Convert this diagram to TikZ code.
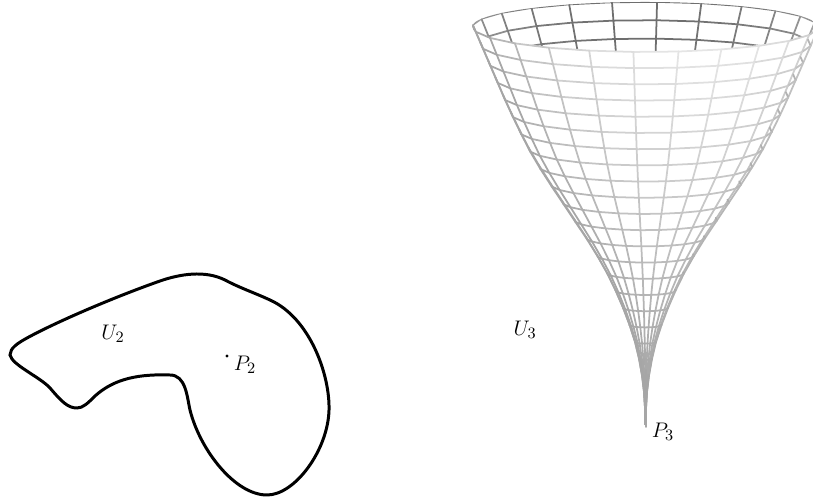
\documentclass[tikz,border=0pt]{standalone}
\usepackage{amsfonts,amsmath,amssymb}
\usepackage{xcolor}
\usepackage{tikz}
\def\RingR{{173,165.5,158,150.5,143,135,126.5,117.5,107,95.5,83.5,71.5,59.5,48.5,38.5,30,22.5,16,10.5,6.5,3.5,1.5,.5,0,0}}
\tikzset{wire/.style={line width=1pt,line cap=round},
mark label/.style={font=\fontsize{13}{15}\selectfont}}
\begin{document}
\begin{tikzpicture}[x=0.02cm,y=-0.02cm]
\useasboundingbox (0,0) rectangle (813,502);
% left region
\draw[line width=1.7pt](10,355) .. controls (10,348) and (18,343) .. (27,338)
.. controls (60,320) and (120,295) .. (160,281)
.. controls (180,274) and (205,270) .. (225,280)
.. controls (240,288) and (255,293) .. (270,300)
.. controls (310,318) and (330,375) .. (329,410)
.. controls (328,450) and (295,495) .. (267,495)
.. controls (235,495) and (200,450) .. (190,410)
.. controls (187,397) and (186,375) .. (170,375)
.. controls (140,374) and (115,378) .. (95,396)
.. controls (88,403) and (83,408) .. (77,408)
.. controls (68,408) and (62,402) .. (50,388)
.. controls (40,377) and (12,365) .. (10,355) -- cycle;
\fill(227,356) circle (1.7);
\node[mark label](U2) at (113,334) {$U_2$};
\node[mark label](P2) at (245,365) {$P_2$};
% back of the funnel
\begin{scope}
\clip (645,27) ellipse [x radius=173,y radius=25];
\foreach \k in {0,...,3}{
\pgfmathsetmacro\ra{\RingR[\k]}
\pgfmathsetmacro\rb{\RingR[\k+1]}
\pgfmathsetmacro\ca{52+16.2*\k-0.145*\ra}
\pgfmathsetmacro\cb{52+16.2*(\k+1)-0.145*\rb}
\foreach \p in {184,199,...,349}{
\pgfmathsetmacro\sh{35+22*max(0,-sin(\p+7))}
\draw[wire,black!\sh]({645+\ra*cos(\p)},{\ca+0.145*\ra*sin(\p)})--({645+\ra*cos(\p+15)},{\ca+0.145*\ra*sin(\p+15)});
\draw[wire,black!\sh]({645+\ra*cos(\p)},{\ca+0.145*\ra*sin(\p)})--({645+\rb*cos(\p)},{\cb+0.145*\rb*sin(\p)});
}}
\end{scope}
% front of the funnel
\foreach \k in {0,...,22}{
\pgfmathsetmacro\ra{\RingR[\k]}
\pgfmathsetmacro\rb{\RingR[\k+1]}
\pgfmathsetmacro\ca{52+16.2*\k-0.145*\ra}
\pgfmathsetmacro\cb{52+16.2*(\k+1)-0.145*\rb}
\pgfmathsetmacro\tk{max(0,1-\k/20)}
\foreach \p in {-11,4,...,184}{
\pgfmathsetmacro\sh{35-25*\tk*max(0,cos(\p-65))}
\ifnum\p<184
\draw[wire,black!\sh]({645.5+\ra*cos(\p)},{\ca+0.145*\ra*sin(\p)})--({645.5+\ra*cos(\p+15)},{\ca+0.145*\ra*sin(\p+15)});
\fi
\ifnum\p>-11
\draw[wire,black!\sh]({645.5+\ra*cos(\p)},{\ca+0.145*\ra*sin(\p)})--({645.5+\rb*cos(\p)},{\cb+0.145*\rb*sin(\p)});
\fi
}}
\coordinate (tip) at (646,427);
\draw[wire,black!35](646,370)--(tip);
\node[mark label](U3) at (525,330) {$U_3$};
\node[mark label](P3) at (663,432) {$P_3$};
\end{tikzpicture}
\end{document}
